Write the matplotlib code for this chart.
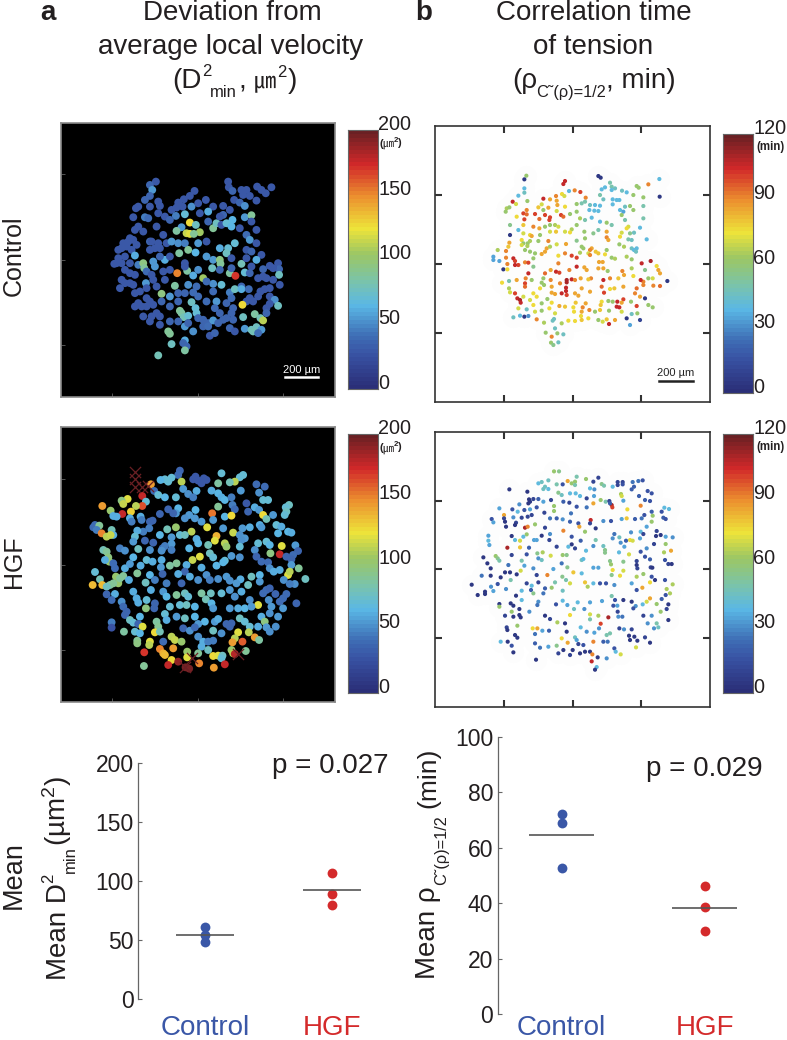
import numpy as np
import matplotlib
matplotlib.use("Agg")
import matplotlib.pyplot as plt
from matplotlib.colors import LinearSegmentedColormap

plt.rcParams["font.family"] = ["Liberation Sans", "DejaVu Sans"]
plt.rcParams["mathtext.fontset"] = "custom"
plt.rcParams["mathtext.rm"] = "Liberation Sans"
plt.rcParams["mathtext.it"] = "Liberation Sans:italic"
plt.rcParams["mathtext.bf"] = "Liberation Sans:bold"
plt.rcParams["mathtext.default"] = "regular"

W, H = 787, 1040
INK = "#231f20"
BLUE = "#3a57a7"
RED = "#d42a2b"

# cells: image x, image y (100 units = 200 um), value
d2_control = [
    (318,215,30),(300,225,35),(307,240,55),(535,215,30),(537,232,30),(548,243,35),(622,230,30),(665,232,30),(635,240,30),(648,250,30),
    (575,240,30),(590,240,30),(580,255,30),(600,258,30),(553,270,30),(570,278,35),(620,272,30),(434,243,30),(420,258,30),(402,268,30),
    (385,278,30),(468,270,30),(300,258,35),(285,270,35),(325,275,30),(265,290,30),(258,295,30),(300,290,30),(330,288,30),(380,293,30),
    (425,290,50),(445,280,30),(398,290,30),(365,300,30),(520,288,30),(490,290,30),(540,300,30),(585,288,50),(475,305,60),(450,310,30),
    (520,315,35),(250,322,30),(285,322,45),(295,325,40),(325,310,30),(345,320,30),(378,318,45),(405,313,70),(360,330,35),(420,338,125),
    (438,345,75),(395,352,55),(380,363,85),(410,370,115),(420,372,120),(450,367,105),(432,372,90),(490,355,90),(500,340,75),(475,335,35),
    (515,345,30),(548,330,65),(530,340,70),(545,350,65),(510,320,30),(585,322,55),(605,316,90),(570,355,30),(605,335,30),(620,360,30),
    (590,375,40),(600,390,55),(265,350,30),(255,360,30),(280,365,30),(320,350,30),(340,375,30),(300,395,35),(240,385,30),(220,400,30),
    (235,395,30),(250,390,30),(205,420,30),(215,415,30),(230,410,30),(245,420,30),(260,405,30),(305,395,30),(325,400,30),(315,415,30),
    (330,415,30),(300,420,30),(350,400,30),(365,395,55),(385,400,50),(405,400,45),(445,400,55),(470,395,30),(415,420,90),(388,430,85),
    (437,428,65),(510,415,60),(535,415,70),(555,400,70),(530,430,75),(590,420,30),(620,400,30),(605,425,35),(635,435,30),(255,437,60),
    (205,445,30),(225,440,30),(200,460,30),(193,462,30),(215,460,30),(240,460,30),(265,465,45),(280,460,95),(283,475,90),(310,455,55),
    (315,470,55),(345,450,60),(330,440,35),(360,440,30),(405,460,30),(470,440,55),(490,450,55),(510,450,95),(512,462,90),(545,445,30),
    (575,462,80),(620,450,60),(590,445,30),(660,468,30),(685,460,30),(605,470,30),(640,478,35),(688,478,35),(670,475,30),(225,480,30),
    (240,490,30),(255,495,30),(290,485,40),(305,495,30),(340,485,30),(382,490,150),(412,483,85),(360,480,30),(405,470,30),(487,475,75),
    (510,480,35),(430,497,60),(460,505,105),(445,480,50),(540,490,85),(557,498,170),(585,488,70),(600,490,35),(545,475,35),(625,505,30),
    (640,500,30),(688,495,75),(670,510,30),(650,505,30),(690,525,30),(215,510,30),(240,520,30),(225,520,30),(250,525,30),(288,520,55),
    (310,510,30),(345,510,30),(375,528,85),(415,525,50),(440,530,40),(490,522,50),(515,525,70),(470,515,40),(575,530,35),(210,535,30),
    (255,550,30),(270,545,30),(290,535,30),(320,530,30),(335,552,95),(360,560,55),(385,550,35),(405,550,35),(430,548,40),(445,560,40),
    (490,545,40),(540,548,45),(555,538,75),(575,538,60),(597,538,40),(660,535,30),(645,538,30),(632,545,30),(625,560,30),(660,560,30),
    (675,570,50),(600,565,30),(590,575,30),(610,575,30),(578,585,125),(545,565,40),(530,580,35),(500,575,55),(470,575,40),(425,577,75),
    (385,575,35),(360,590,35),(335,575,35),(290,565,30),(300,575,30),(265,580,30),(255,590,30),(275,590,30),(290,590,30),(310,585,30),
    (685,588,75),(660,582,30),(650,595,30),(320,610,30),(305,620,30),(280,620,30),(330,620,30),(390,603,90),(395,610,85),(402,622,80),
    (415,618,70),(437,595,70),(440,610,70),(510,610,35),(495,595,40),(550,595,35),(545,610,35),(580,622,75),(615,613,85),(632,625,80),
    (640,632,110),(650,610,35),(460,630,35),(445,625,35),(475,640,35),(490,632,55),(520,630,35),(530,625,35),(550,630,35),(300,635,30),
    (330,645,30),(360,635,35),(385,635,35),(405,650,55),(430,665,50),(415,640,35),(460,650,35),(505,640,35),(540,655,35),(555,665,30),
    (585,657,55),(605,660,75),(620,652,75),(635,660,55),(610,665,80),(625,670,40),(355,665,90),(360,672,90),(475,650,40),(480,678,30),
    (495,670,35),(405,692,60),(400,700,35),(365,703,75),(410,710,35),(405,722,85),(325,737,80),
]

rho_control = [
    (289,197,60),(283,208,5),(505,198,5),(512,203,5),(688,207,40),(405,213,105),(400,222,105),(655,223,90),(540,218,50),(620,228,60),
    (626,233,60),(525,232,40),(515,238,40),(283,235,40),(545,230,50),(555,235,45),(545,240,40),(417,243,40),(434,241,90),(451,246,100),
    (283,248,45),(265,257,40),(396,252,75),(403,258,70),(576,242,45),(590,247,40),(610,255,60),(640,262,60),(689,260,5),(467,263,90),
    (510,255,50),(520,268,45),(378,258,90),(340,266,105),(360,268,85),(248,275,105),(258,282,70),(292,273,60),(380,272,85),(382,285,85),
    (465,275,50),(455,280,50),(440,282,60),(548,268,40),(560,270,40),(568,270,40),(548,283,40),(640,288,50),(600,288,60),(585,290,45),
    (495,285,40),(510,287,40),(480,285,45),(335,283,70),(325,292,80),(355,293,85),(405,290,75),(230,295,65),(238,292,60),(227,305,60),
    (290,300,90),(280,310,100),(290,313,95),(315,312,100),(340,300,60),(478,300,40),(493,302,40),(505,303,40),(570,300,40),(580,305,35),
    (610,300,60),(393,315,100),(400,320,95),(345,315,100),(360,322,100),(358,330,100),(260,320,75),(283,328,100),(328,327,95),(380,303,70),
    (440,305,60),(420,312,60),(450,325,65),(465,330,50),(485,323,40),(510,335,40),(545,345,50),(530,338,60),(575,315,60),(585,330,50),
    (640,325,50),(240,345,55),(280,345,80),(310,350,90),(328,355,85),(345,350,60),(360,345,60),(375,345,65),(385,350,70),(440,345,60),
    (425,358,65),(405,365,70),(420,367,75),(265,360,40),(240,375,5),(280,370,70),(300,375,75),(305,378,85),(330,375,60),(360,365,70),
    (378,365,80),(463,365,60),(490,370,55),(505,360,50),(530,365,85),(595,350,70),(590,355,75),(630,353,40),(575,368,70),(612,368,45),
    (600,370,55),(570,380,75),(530,382,90),(535,390,85),(595,388,50),(605,390,45),(465,385,60),(440,392,55),(355,393,90),(275,390,75),
    (238,398,85),(280,400,60),(293,400,60),(300,393,65),(325,393,60),(650,388,40),(408,402,85),(380,403,70),(235,410,80),(275,405,70),
    (292,408,65),(350,415,85),(455,410,60),(460,415,60),(485,415,85),(480,420,90),(530,420,60),(568,403,60),(582,410,65),(605,415,45),
    (620,415,40),(612,420,40),(618,425,45),(203,420,65),(228,423,90),(285,420,60),(300,425,60),(315,430,60),(335,432,85),(345,425,85),
    (360,410,65),(405,430,90),(497,425,80),(450,428,65),(475,430,70),(190,440,35),(190,450,35),(208,453,35),(228,443,90),(250,445,105),
    (255,453,100),(265,465,100),(285,457,90),(295,458,100),(310,445,60),(385,437,75),(425,437,100),(440,443,100),(480,435,90),(505,430,80),
    (525,433,75),(545,443,60),(555,446,65),(590,440,65),(605,448,60),(232,462,90),(220,478,5),(232,478,75),(255,465,105),(295,490,105),
    (310,470,55),(345,490,95),(362,480,85),(385,460,90),(378,485,105),(388,488,100),(418,480,90),(440,470,105),(463,472,85),(470,480,85),
    (507,456,85),(518,456,85),(505,475,85),(520,475,85),(533,483,60),(577,483,90),(582,495,85),(605,475,65),(635,460,105),(662,453,110),
    (680,468,75),(685,480,85),(690,490,85),(645,480,55),(655,505,60),(668,505,70),(712,513,5),(690,528,95),(640,515,90),(632,510,105),
    (610,498,75),(565,505,80),(540,505,90),(520,510,105),(483,505,90),(452,505,85),(475,508,80),(425,508,105),(410,510,110),(410,517,110),
    (435,510,90),(390,520,90),(340,505,60),(362,510,90),(335,518,60),(287,505,90),(260,510,85),(216,518,75),(237,513,50),(285,520,100),
    (305,510,60),(237,535,65),(240,547,70),(255,550,100),(262,565,105),(270,570,110),(285,530,95),(310,550,75),(342,525,60),(330,535,75),
    (365,530,85),(365,548,85),(375,552,85),(408,533,105),(408,543,105),(395,550,105),(410,555,100),(435,550,85),(455,535,85),(445,557,85),
    (480,545,85),(515,530,95),(522,548,100),(540,537,75),(553,535,80),(580,530,85),(620,535,95),(640,525,90),(615,550,90),(670,527,90),
    (645,565,5),(630,560,85),(655,585,60),(668,592,60),(620,588,100),(603,575,60),(580,568,100),(562,575,105),(575,578,85),(560,590,105),
    (568,592,105),(535,573,60),(548,575,60),(515,575,75),(512,585,80),(467,580,85),(437,578,80),(405,590,80),(388,588,85),(365,578,75),
    (352,567,60),(320,560,75),(280,560,70),(272,578,105),(300,570,70),(310,585,75),(335,580,60),(265,595,70),(290,598,45),(315,605,70),
    (335,602,60),(358,595,75),(375,610,70),(430,592,75),(432,605,75),(458,592,90),(455,605,85),(478,600,90),(495,605,60),(510,600,80),
    (537,602,60),(575,605,70),(605,612,45),(622,610,60),(590,625,5),(250,622,45),(270,617,40),(283,620,5),(295,618,30),(320,628,90),
    (342,638,65),(372,627,45),(368,632,45),(395,640,65),(415,632,75),(435,633,75),(453,618,75),(455,630,80),(475,625,75),(505,630,60),
    (518,635,70),(530,628,80),(537,642,105),(555,630,85),(630,630,10),(600,645,35),(375,655,45),(347,668,60),(365,680,90),(382,670,60),
    (400,673,45),(363,698,60),(370,705,55),(385,697,45),
]

d2_hgf = [
    (390,152,35),(385,165,40),(437,170,30),(430,178,30),(445,182,30),(462,175,30),(455,190,30),(470,180,30),(515,160,70),(580,165,70),
    (570,172,70),(365,173,70),(345,178,70),(332,180,65),(355,185,70),(395,185,110),(505,190,85),(555,185,110),(540,187,80),(303,193,145),
    (620,193,40),(645,200,40),(400,207,55),(485,212,60),(573,212,55),(628,218,50),(415,222,50),(440,213,60),(430,232,45),(313,213,40),
    (325,225,70),(345,232,65),(277,228,175),(505,220,65),(515,232,60),(525,240,65),(545,232,45),(378,232,70),(640,240,70),(655,240,70),
    (590,250,30),(718,255,75),(708,262,70),(233,237,120),(215,242,95),(220,252,115),(288,245,70),(277,258,165),(258,258,110),(157,258,145),
    (548,255,45),(555,268,40),(615,262,60),(628,270,55),(595,275,35),(640,285,125),(710,275,75),(705,285,70),(182,272,100),(217,282,175),
    (243,275,130),(240,295,60),(355,268,35),(385,265,65),(378,280,55),(330,282,35),(370,280,35),(437,270,65),(418,285,55),(487,280,155),
    (505,260,90),(525,290,65),(545,287,125),(650,297,80),(670,285,55),(190,288,60),(200,290,60),(272,290,60),(275,300,45),(245,305,45),
    (300,305,35),(308,302,35),(405,295,50),(435,295,55),(455,305,55),(490,300,55),(135,315,40),(130,322,40),(148,317,90),(140,330,45),
    (155,340,150),(185,330,80),(190,345,60),(170,350,110),(182,345,115),(520,325,55),(472,322,120),(378,322,100),(352,328,80),(298,325,45),
    (280,335,45),(262,332,60),(425,335,110),(578,325,55),(600,322,60),(550,338,115),(630,315,60),(635,322,55),(680,315,70),(695,320,60),
    (685,340,65),(715,335,65),(725,338,60),(255,350,70),(330,345,65),(365,352,55),(390,345,70),(405,345,75),(500,348,140),(495,362,120),
    (570,345,50),(440,357,60),(585,355,55),(250,365,55),(285,362,35),(310,368,35),(365,372,55),(475,375,80),(525,370,110),(530,380,100),
    (575,360,50),(625,370,70),(650,365,70),(660,375,65),(696,378,120),(737,376,55),(338,385,40),(345,378,45),(335,392,50),(365,390,45),
    (210,385,45),(225,392,50),(265,387,75),(418,385,65),(445,370,65),(450,410,120),(428,420,115),(160,390,80),(170,395,90),(300,390,50),
    (570,380,70),(615,390,50),(662,400,95),(690,403,175),(745,393,35),(730,405,40),(710,410,35),(725,418,35),(480,400,75),(490,412,70),
    (525,422,70),(545,408,55),(570,412,50),(620,410,35),(635,425,40),(250,412,65),(175,412,95),(178,425,100),(290,420,70),(165,420,60),
    (190,430,40),(195,445,40),(225,445,60),(240,432,55),(272,437,60),(308,425,60),(335,420,60),(380,430,90),(360,437,85),(333,442,55),
    (410,435,60),(455,443,60),(500,437,65),(520,427,65),(655,427,40),(660,445,50),(725,435,55),(672,455,60),(690,450,60),(715,465,120),
    (720,455,110),(747,445,90),(135,456,70),(262,460,90),(300,465,65),(338,462,35),(405,455,35),(385,462,60),(420,470,60),(445,480,50),
    (470,465,50),(505,477,50),(530,470,55),(572,478,60),(605,470,75),(630,465,65),(150,478,80),(198,470,100),(220,468,90),(180,495,85),
    (205,490,100),(190,490,90),(210,475,90),(128,495,135),(157,495,135),(170,500,75),(237,480,60),(287,488,75),(315,480,45),(350,490,45),
    (395,490,35),(480,480,45),(540,482,50),(560,490,55),(595,495,75),(630,485,55),(702,480,50),(735,492,50),(720,492,45),(767,477,75),
    (170,523,35),(195,522,60),(250,515,60),(303,510,60),(340,515,55),(405,520,75),(455,520,85),(483,520,75),(515,520,70),(540,510,55),
    (575,515,60),(650,510,40),(660,505,35),(640,520,40),(677,522,35),(710,522,40),(185,540,40),(215,545,50),(260,535,60),(265,548,60),
    (290,540,70),(350,530,65),(380,525,90),(415,530,70),(468,538,80),(555,530,50),(600,540,50),(625,555,120),(657,540,50),(690,545,40),
    (700,535,40),(740,550,35),(220,560,40),(230,575,35),(225,585,35),(288,565,95),(315,550,35),(313,565,35),(345,582,70),(390,555,70),
    (360,560,70),(410,555,75),(435,560,65),(485,550,65),(490,565,55),(540,565,55),(565,565,60),(585,565,65),(605,560,55),(665,560,55),
    (700,565,55),(660,580,50),(635,590,60),(685,590,55),(270,590,65),(240,600,75),(250,608,70),(350,600,60),(380,590,55),(405,595,75),
    (435,590,65),(465,605,65),(495,605,55),(505,597,60),(570,595,75),(585,605,70),(645,605,95),(185,607,45),(185,623,25),(265,612,35),
    (278,620,120),(320,605,85),(325,620,90),(445,612,55),(530,612,35),(540,620,35),(545,610,35),(600,620,70),(625,620,60),(650,622,55),
    (678,620,50),(222,635,85),(255,635,70),(270,640,65),(315,637,125),(330,635,80),(400,625,35),(420,632,50),(435,622,40),(490,632,75),
    (515,640,50),(565,637,120),(597,637,110),(660,635,50),(340,665,40),(365,650,110),(375,660,115),(395,665,100),(300,665,120),(298,675,110),
    (262,662,90),(262,670,95),(445,650,50),(460,665,60),(475,665,45),(490,662,45),(555,655,110),(548,667,145),(578,665,160),(615,652,145),
    (628,660,85),(455,680,60),(475,690,75),(330,687,150),(340,700,140),(345,705,135),(370,685,145),(412,695,100),(445,700,90),(545,690,100),
    (550,700,110),(588,693,90),(283,697,170),(490,708,125),(505,707,120),(518,707,75),(515,715,70),(555,702,180),(365,720,125),(385,725,190),
    (412,712,120),(448,730,150),(355,735,175),(282,738,90),(492,743,145),(525,733,175),(418,746,195),(407,742,195),
]

# cells over the colour range, drawn as crosses
d2_hgf_over_x = [256, 256, 256, 275, 293, 425, 405, 565]
d2_hgf_over_y = [157, 178, 200, 200, 197, 715, 740, 703]

rho_hgf = [
    (372,154,60),(387,154,55),(413,183,85),(425,190,60),(435,185,60),(440,170,50),(468,177,60),(490,185,10),(505,173,10),(515,192,55),
    (522,197,50),(563,186,10),(578,186,10),(563,195,10),(578,193,15),(608,186,25),(625,183,25),(638,181,15),(612,200,20),(325,190,40),
    (335,186,45),(355,181,45),(345,200,45),(380,193,50),(398,193,15),(238,208,5),(340,207,45),(355,207,40),(435,195,50),(480,205,40),
    (493,208,30),(548,200,40),(605,208,20),(292,215,5),(385,218,55),(395,225,45),(420,220,40),(437,220,40),(450,228,40),(492,228,35),
    (573,222,65),(575,228,70),(627,228,20),(653,213,15),(665,220,15),(297,238,5),(300,245,5),(295,250,5),(310,237,10),(325,237,20),
    (340,245,35),(363,240,10),(400,245,20),(418,248,10),(470,235,10),(490,250,85),(512,240,60),(527,245,50),(538,243,10),(545,255,110),
    (547,262,100),(580,242,35),(632,257,90),(645,240,20),(660,243,15),(268,253,30),(320,262,15),(372,258,60),(440,260,15),(470,262,25),
    (540,250,20),(703,263,40),(717,267,40),(208,265,35),(247,268,15),(263,275,40),(283,270,15),(300,268,35),(343,278,10),(372,273,60),
    (423,280,25),(592,268,75),(643,285,15),(668,287,60),(695,275,15),(222,285,85),(222,295,10),(225,305,5),(250,292,30),(275,293,10),
    (293,290,10),(305,285,10),(360,295,25),(380,295,20),(398,298,30),(575,297,35),(590,295,80),(615,297,20),(635,295,25),(665,275,20),
    (700,293,20),(707,297,15),(185,297,15),(190,307,35),(258,308,10),(255,315,5),(315,313,60),(420,305,20),(445,310,15),(482,300,105),
    (480,310,10),(497,325,5),(520,303,30),(543,303,15),(665,305,60),(228,320,5),(285,323,110),(293,320,90),(345,323,10),(448,320,85),
    (400,332,90),(465,335,60),(632,335,40),(650,320,35),(680,333,10),(175,347,35),(290,343,60),(245,348,5),(280,350,40),(335,347,5),
    (360,342,30),(425,350,15),(497,360,50),(553,342,25),(603,337,30),(548,355,30),(568,352,45),(588,362,20),(640,342,10),(678,348,5),
    (692,345,5),(707,350,35),(728,352,30),(175,362,40),(178,375,35),(255,360,40),(270,362,70),(312,360,35),(320,360,35),(358,360,10),
    (425,373,5),(452,362,20),(520,378,45),(600,360,75),(608,362,70),(630,355,35),(572,368,30),(672,372,10),(707,372,60),(232,383,110),
    (270,382,80),(297,383,20),(380,380,10),(415,380,40),(435,385,10),(490,378,30),(525,390,55),(525,398,55),(567,397,40),(583,380,35),
    (650,385,30),(723,392,85),(702,397,65),(338,397,65),(322,400,55),(290,403,15),(245,405,10),(362,407,70),(398,405,60),(410,405,55),
    (468,392,40),(597,403,70),(632,395,15),(620,423,10),(645,410,15),(660,418,20),(197,408,60),(203,415,55),(208,422,50),(160,412,5),
    (325,415,30),(335,420,45),(275,422,50),(455,420,45),(460,417,40),(540,423,55),(543,433,60),(580,425,55),(705,420,15),(172,430,5),
    (235,435,25),(283,437,35),(395,430,25),(620,435,5),(662,442,10),(667,443,5),(715,432,10),(725,432,5),(412,442,55),(182,445,5),
    (182,467,5),(310,445,30),(272,452,70),(370,447,35),(430,457,80),(490,443,35),(505,443,35),(548,450,75),(580,452,70),(622,445,10),
    (640,462,60),(225,457,5),(240,457,5),(260,463,5),(352,465,90),(320,465,10),(155,467,25),(212,472,5),(397,470,55),(408,480,50),
    (455,460,40),(545,465,55),(570,467,75),(620,470,65),(665,470,15),(242,480,50),(125,494,5),(290,490,10),(325,487,10),(305,497,40),
    (375,487,50),(465,487,80),(490,490,40),(510,490,15),(528,490,15),(553,495,30),(605,490,35),(660,487,75),(675,480,5),(728,493,65),
    (705,480,15),(183,500,30),(203,492,15),(228,507,30),(345,505,20),(365,503,60),(420,490,70),(473,500,65),(637,503,85),(710,507,65),
    (620,510,15),(190,513,35),(165,515,5),(275,512,40),(303,510,20),(398,512,45),(310,520,55),(340,520,25),(165,522,5),(143,525,5),
    (258,527,5),(720,520,65),(707,525,15),(275,540,40),(545,528,50),(660,535,85),(555,540,15),(580,540,5),(605,545,5),(650,545,70),
    (695,537,20),(443,547,40),(480,547,35),(516,543,35),(398,542,40),(208,552,5),(208,560,60),(242,550,5),(250,557,5),(325,545,30),
    (322,555,25),(378,553,15),(412,555,35),(638,553,40),(562,557,35),(617,558,30),(680,552,60),(715,553,5),(268,567,5),(298,575,30),
    (245,575,60),(432,567,45),(463,567,30),(550,557,15),(610,565,15),(710,567,10),(692,575,60),(563,575,10),(225,587,10),(250,590,5),
    (268,585,5),(272,592,5),(345,587,5),(420,585,75),(480,583,70),(505,587,65),(535,592,110),(565,590,30),(577,590,25),(640,587,10),
    (665,587,30),(382,607,65),(715,600,5),(360,597,10),(405,610,5),(512,611,100),(480,598,50),(230,622,10),(232,630,5),(262,617,60),
    (308,625,75),(322,625,85),(337,632,35),(357,632,20),(410,635,5),(452,622,40),(470,635,30),(493,638,35),(568,625,10),(582,628,30),
    (605,628,10),(653,610,30),(680,610,50),(685,622,45),(672,625,30),(255,645,5),(262,653,5),(315,642,25),(435,652,45),(440,660,35),
    (507,625,30),(540,640,50),(530,645,50),(597,647,5),(613,650,5),(645,652,10),(212,665,40),(233,665,5),(315,670,20),(395,655,75),
    (413,668,85),(445,672,10),(460,675,15),(490,665,90),(520,665,20),(533,665,25),(600,660,5),(622,662,5),(660,668,5),(245,677,15),
    (330,683,25),(355,680,35),(380,677,55),(400,690,5),(428,690,5),(553,685,15),(618,682,70),(250,697,5),(385,700,10),(420,705,10),
    (450,700,5),(465,695,5),(480,695,5),(487,703,90),(503,712,5),(530,715,30),(557,695,40),(572,703,70),(318,719,5),(485,724,105),
    (500,741,40),(495,749,5),
]

# bottom dot plots
groups = ["Control", "HGF"]
mean_d2_control = [60.6, 54.1, 48.4]
mean_d2_hgf = [107, 89, 80]
mean_d2_lines = [54.4, 92.4]
mean_rho_control = [72.2, 68.8, 52.5]
mean_rho_hgf = [46.2, 38.6, 29.9]
mean_rho_lines = [64.7, 38.2]

d2_ticks = [0, 50, 100, 150, 200]
rho_ticks = [0, 30, 60, 90, 120]
mean_d2_ticks = [0, 50, 100, 150, 200]
mean_rho_ticks = [0, 20, 40, 60, 80, 100]

cmap = LinearSegmentedColormap.from_list(
    "muted_jet",
    [(0.0, "#2b2f78"), (0.13, "#3953a4"), (0.2, "#3f6fb6"), (0.32, "#5bb8e6"), (0.42, "#7cc4a8"),
     (0.52, "#9cc765"), (0.62, "#eee43a"), (0.75, "#ec8f2f"), (0.87, "#d2292a"), (1.0, "#6a2024")],
    N=64,
)

fig = plt.figure(figsize=(W / 100, H / 100), dpi=100)


def px_axes(left, top, right, bottom):
    return fig.add_axes([left / W, 1 - bottom / H, (right - left) / W, (bottom - top) / H])


def px_text(x, y, s, **kw):
    kw.setdefault("color", INK)
    kw.setdefault("va", "baseline")
    return fig.text(x / W, 1 - y / H, s, **kw)


def up_text(x, y, s, **kw):
    # rotated text, x is the baseline and y where it starts
    return px_text(x, y, s, rotation=90, ha="left", rotation_mode="anchor", **kw)


def cell_panel(box, limits, cells, vmax, xticks, yticks, dark):
    ax = px_axes(*box)
    cells = np.array(cells, dtype=float)
    if dark:
        ax.set_facecolor("black")
        ax.tick_params(length=3, width=0.7, color="#555555", direction="in", labelleft=False, labelbottom=False)
        size = 32
    else:
        ax.scatter(cells[:, 0], cells[:, 1], s=230, c="#fdfdfd", linewidths=0, zorder=1)
        ax.tick_params(length=5, width=1.5, color="#333333", direction="in", top=True, right=True,
                       labelleft=False, labelbottom=False)
        size = 9
    ax.set_xticks(xticks)
    ax.set_yticks(yticks)
    ax.scatter(cells[:, 0], cells[:, 1], c=cells[:, 2], cmap=cmap, vmin=0, vmax=vmax, s=size, linewidths=0, zorder=2)
    ax.set_xlim(limits[0], limits[1])
    ax.set_ylim(limits[2], limits[3])
    for spine in ax.spines.values():
        spine.set_color("#8a8a8a" if dark else "#333333")
        spine.set_linewidth(1.2)
    return ax


def scale_bar(ax, x0, x1, y, color):
    ax.plot([x0, x1], [y, y], color=color, lw=1.8, zorder=3)
    ax.text((x0 + x1) / 2, y - 7, "200 µm", color=color, fontsize=8, ha="center", va="bottom", zorder=3)


def colour_bar(left, top, right, bottom, vmax, ticks, unit):
    ax = px_axes(left, top, right, bottom)
    levels = np.linspace(0, vmax, 64)[:, None]
    ax.imshow(levels, cmap=cmap, vmin=0, vmax=vmax, origin="lower", aspect="auto", extent=(0, 1, 0, vmax))
    ax.set_xticks([])
    ax.set_yticks([])
    for spine in ax.spines.values():
        spine.set_color("#666666")
        spine.set_linewidth(0.8)
    for t in ticks:
        ax.annotate(str(t), xy=(1, t), xycoords=ax.get_yaxis_transform(), xytext=(0, 4), textcoords="offset points",
                    fontsize=14.3, color=INK, va="center", ha="left", annotation_clip=False)
    if unit == "min":
        px_text(right + 3, top + 16, "(min)", fontsize=8.3, fontweight="bold")
    else:
        px_text(right + 1, top + 17, "(", fontsize=8, fontweight="bold")
        px_text(right + 4, top + 17, "㎛", fontsize=8, family=["Noto Sans CJK JP", "DejaVu Sans"])
        px_text(right + 15, top + 17, "$^{2}$)", fontsize=8, fontweight="bold")


def dot_plot(box, xlim, ylim, ticks, control, hgf, lines):
    ax = px_axes(*box)
    ax.scatter([0] * len(control), control, s=50, color=BLUE, linewidths=0, zorder=2)
    ax.scatter([1] * len(hgf), hgf, s=50, color=RED, linewidths=0, zorder=2)
    ax.hlines(lines, [-0.23, 0.77], [0.23, 1.23], color="#555555", lw=1.2, zorder=3)
    ax.set_xlim(*xlim)
    ax.set_ylim(*ylim)
    ax.set_yticks(ticks)
    ax.set_xticks([0, 1])
    ax.set_xticklabels(groups, fontsize=20)
    ax.get_xticklabels()[0].set_color(BLUE)
    ax.get_xticklabels()[1].set_color(RED)
    ax.tick_params(axis="x", length=0)
    ax.tick_params(axis="y", direction="in", length=3, width=0.8, color="#666666", labelsize=16.5, labelcolor=INK, pad=3)
    ax.patch.set_alpha(0)
    for name in ["top", "right", "bottom"]:
        ax.spines[name].set_visible(False)
    ax.spines["left"].set_color("#666666")
    ax.spines["left"].set_linewidth(0.9)
    return ax


# micrograph panels: pixel box, then image limits x0, x1, y0, y1
ax = cell_panel((60.7, 122.7, 335, 397), (32, 856, 862, 38), d2_control, 200, [187, 445, 700], [193, 450, 707], True)
scale_bar(ax, 705, 805, 803, "white")
colour_bar(347.7, 130, 378.3, 388.7, 200, d2_ticks, "um")

ax = cell_panel((434.7, 125.7, 710, 402), (14, 840, 876, 47), rho_control, 120, [221, 428, 633], [255, 462, 668], False)
scale_bar(ax, 687, 788, 812, "#222222")
colour_bar(722.7, 134.3, 753.3, 393.3, 120, rho_ticks, "min")

ax = cell_panel((60.7, 427.3, 335, 702), (32, 856, 846, 22), d2_hgf, 200, [187, 445, 700], [177, 434, 691], True)
ax.scatter(d2_hgf_over_x, d2_hgf_over_y, marker="x", s=65, color="#6a2024", linewidths=0.9, zorder=3)
colour_bar(347.7, 434.3, 378.3, 693.3, 200, d2_ticks, "um")

cell_panel((434.7, 431.7, 710, 706.7), (14, 840, 860, 35), rho_hgf, 120, [221, 428, 633], [242, 448, 654], False)
colour_bar(722.7, 434.3, 753.3, 693.3, 120, rho_ticks, "min")

# dot plots at the bottom
ax = dot_plot((138, 763.3, 400, 998.7), (-0.528, 1.535), (0, 200), mean_d2_ticks, mean_d2_control, mean_d2_hgf, mean_d2_lines)
ax.tick_params(axis="x", pad=12)
ax = dot_plot((497.5, 736.7, 775, 1014), (-0.4476, 1.493), (0, 100), mean_rho_ticks, mean_rho_control, mean_rho_hgf, mean_rho_lines)
ax.tick_params(axis="x", pad=0.5)

# headings
px_text(40, 20, "a", fontsize=20, fontweight="bold")
px_text(415, 20, "b", fontsize=20, fontweight="bold")
px_text(232, 20, "Deviation from", fontsize=20, ha="center")
px_text(231, 54, "average local velocity", fontsize=20, ha="center")
px_text(172, 88, "(D", fontsize=20)
px_text(202, 76, "2", fontsize=12)
px_text(210, 97, "min", fontsize=12)
px_text(238, 88, ",", fontsize=20)
px_text(254, 88, "㎛", fontsize=16, family=["Noto Sans CJK JP", "DejaVu Sans"])
px_text(277, 77, "2", fontsize=12)
px_text(288, 88, ")", fontsize=20)
px_text(594, 20, "Correlation time", fontsize=20, ha="center")
px_text(593, 54, "of tension", fontsize=20, ha="center")
px_text(512, 88, "(ρ", fontsize=20)
px_text(536, 97, "C˜(ρ)=1/2", fontsize=11.8)
px_text(606, 88, ", min)", fontsize=20)

# row labels
px_text(21, 256, "Control", fontsize=18, rotation=90, ha="center", rotation_mode="anchor")
px_text(21, 562, "HGF", fontsize=18, rotation=90, ha="center", rotation_mode="anchor")
px_text(21, 875, "Mean", fontsize=19.5, rotation=90, ha="center", rotation_mode="anchor")

up_text(66, 980, "Mean D", fontsize=20)
up_text(53, 883, "2", fontsize=12)
up_text(75, 873, "min", fontsize=12)
up_text(66, 846, "(µm$^{2}$)", fontsize=20)
up_text(435, 979, "Mean ρ", fontsize=20)
up_text(446, 885, "C˜(ρ)=1/2", fontsize=11.8)
up_text(435, 808, "(min)", fontsize=19)

px_text(272, 773, "p = 0.027", fontsize=20)
px_text(646, 776, "p = 0.029", fontsize=20)

fig.savefig("out.png", dpi=100)
